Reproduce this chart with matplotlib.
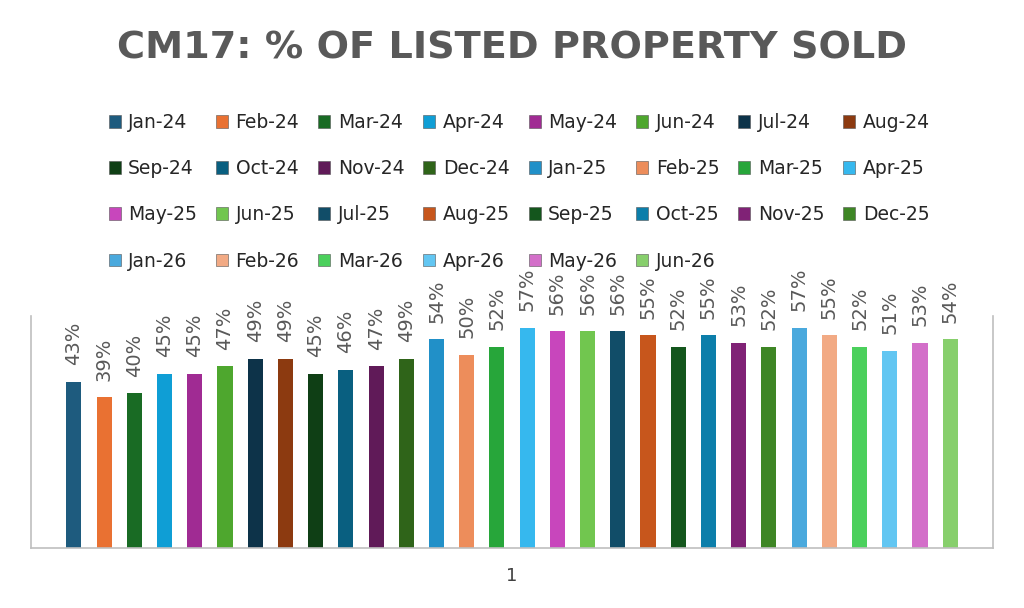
import matplotlib
matplotlib.use("Agg")
import matplotlib.pyplot as plt
from matplotlib.patches import Patch

months = ["Jan-24", "Feb-24", "Mar-24", "Apr-24", "May-24", "Jun-24",
          "Jul-24", "Aug-24", "Sep-24", "Oct-24", "Nov-24", "Dec-24",
          "Jan-25", "Feb-25", "Mar-25", "Apr-25", "May-25", "Jun-25",
          "Jul-25", "Aug-25", "Sep-25", "Oct-25", "Nov-25", "Dec-25",
          "Jan-26", "Feb-26", "Mar-26", "Apr-26", "May-26", "Jun-26"]
pct_sold = [43, 39, 40, 45, 45, 47, 49, 49, 45, 46, 47, 49,
            54, 50, 52, 57, 56, 56, 56, 55, 52, 55, 53, 52,
            57, 55, 52, 51, 53, 54]
colors = ["#1E5B7E", "#E97132", "#196B24", "#0F9ED5", "#A02B93", "#4EA72E",
          "#0D3349", "#8C3A10", "#0F3F15", "#095F80", "#601A58", "#2F6419",
          "#2190C8", "#ED8D5B", "#27A63A", "#36B8EE", "#C846BC", "#71C64F",
          "#114D68", "#C7561C", "#14561D", "#0C7EAA", "#802276", "#3E8625",
          "#4AA9DD", "#F2AA84", "#4BD05C", "#62C6F2", "#D36FC9", "#87CF6C"]

text_grey = "#595959"
fig = plt.figure(figsize=(10.24, 6.08), dpi=100)
ax = fig.add_axes([0.0303, 0.0987, 0.9395, 0.3816])

n = len(pct_sold)
xs = list(range(n))
bars = ax.bar(xs, pct_sold, width=0.5, color=colors)
for x, v in zip(xs, pct_sold):
    ax.annotate(f"{v}%", (x, v), xytext=(0, 12), textcoords="offset points",
                rotation=90, ha="center", va="bottom", fontsize=14, color=text_grey)

ax.set_ylim(0, 60)
ax.set_xlim(-1.42, n - 1 + 1.42)
ax.set_yticks([])
ax.set_xticks([(n - 1) / 2])
ax.set_xticklabels(["1"], fontsize=13, color="#404040")
ax.tick_params(axis="x", length=0, pad=14)
ax.spines["top"].set_visible(False)
for s in ["left", "right", "bottom"]:
    ax.spines[s].set_color("#BFBFBF")
    ax.spines[s].set_linewidth(1.2)

# legend: row-major order across 8 columns
ncol = 8
order = []
for c in range(ncol):
    r = 0
    while r * ncol + c < n:
        order.append(r * ncol + c)
        r += 1
handles = [Patch(facecolor=colors[i], edgecolor="#555555", linewidth=0.4) for i in order]
labels = [months[i] for i in order]
fig.legend(handles, labels, ncol=ncol, loc="upper center", bbox_to_anchor=(0.507, 0.842),
           frameon=False, fontsize=13.5, handlelength=0.65, handleheight=0.65,
           handletextpad=0.4, columnspacing=1.0, labelspacing=1.45,
           labelcolor="#262626")

fig.text(0.5, 0.92, "CM17: % OF LISTED PROPERTY SOLD", ha="center", va="center",
         fontsize=27.5, fontweight="bold", color=text_grey)

fig.savefig("out.png", dpi=100)
